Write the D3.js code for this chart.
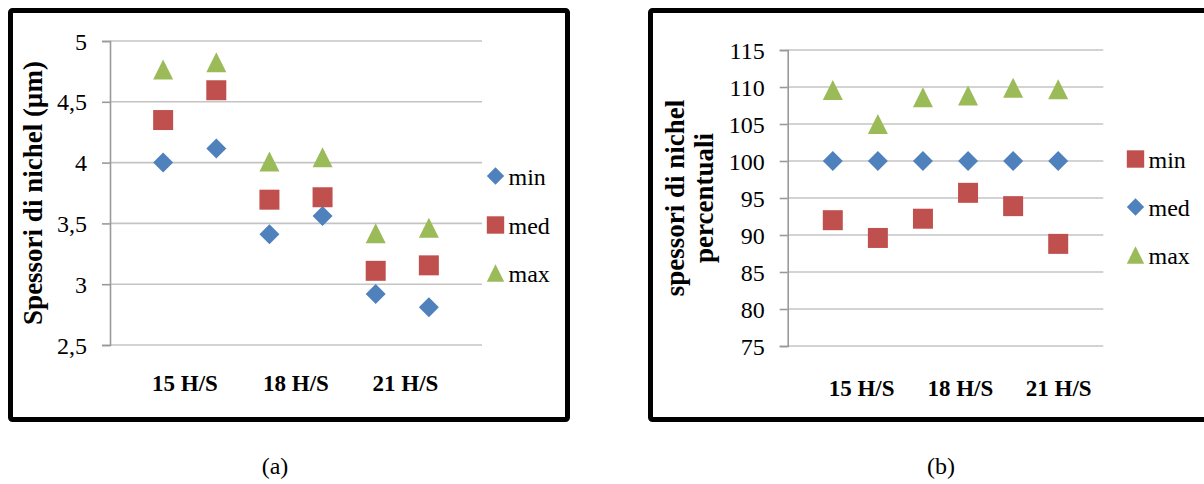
<!DOCTYPE html>
<html><head><meta charset="utf-8">
<script src="https://cdn.jsdelivr.net/npm/d3@7"></script>
<style>body{margin:0;background:#fff} svg{display:block}</style>
</head><body><svg id="c" width="1204" height="484"></svg>
<script>
// ---------- data ----------
const seriesNames = ["min", "med", "max"];
const categories = ["15 H/S", "18 H/S", "21 H/S"];
const xPoints = [1, 2, 3, 4, 5, 6];

// chart (a): spessori di nichel (µm)
const aMin = [4.0, 4.115, 3.41, 3.56, 2.92, 2.81];
const aMed = [4.35, 4.595, 3.695, 3.715, 3.11, 3.155];
const aMax = [4.765, 4.825, 4.01, 4.045, 3.42, 3.465];
const aTicks = [2.5, 3, 3.5, 4, 4.5, 5];
const aCatPos = [1.41, 3.5, 5.56];

// chart (b): spessori di nichel percentuali
const bMin = [92.0, 89.6, 92.2, 95.7, 93.9, 88.8];
const bMed = [100, 100, 100, 100, 100, 100];
const bMax = [109.6, 105.0, 108.6, 108.85, 109.9, 109.7];
const bTicks = [75, 80, 85, 90, 95, 100, 105, 110, 115];
const bCatPos = [1.64, 3.83, 6.01];

// ---------- styles ----------
const FONT = "'Liberation Serif','Times New Roman',serif";
const BLUE = "#4F81BD", RED = "#C0504D", GREEN = "#9BBB59";
const GRID = "#c4c4c4", AXIS = "#9a9a9a";

function markerPath(shape, r) {
  if (shape === "diamond") return `M0,${-r}L${r},0L0,${r}L${-r},0Z`;
  if (shape === "square") return `M${-r},${-r}H${r}V${r}H${-r}Z`;
  // triangle
  return `M0,${-r}L${r},${r}L${-r},${r}Z`;
}
const fmtComma = d => String(d).replace(".", ",");

const svg = d3.select("#c");

function drawChart(cfg) {
  const g = svg.append("g");
  // frame
  g.append("rect").attr("x", cfg.frame[0]).attr("y", cfg.frame[1])
    .attr("width", cfg.frame[2]).attr("height", cfg.frame[3])
    .attr("rx", 2).attr("fill", "none").attr("stroke", "#000").attr("stroke-width", 5);

  const x = d3.scaleLinear().domain([0, 7]).range(cfg.xRange);
  const y = d3.scaleLinear().domain(cfg.yDomain).range(cfg.yRange);

  // gridlines
  g.append("g").selectAll("line").data(cfg.ticks).join("line")
    .attr("x1", cfg.xRange[0]).attr("x2", cfg.xRange[1])
    .attr("y1", d => y(d)).attr("y2", d => y(d))
    .attr("stroke", GRID).attr("stroke-width", 1.6);

  // y axis
  const yAxis = d3.axisLeft(y).tickValues(cfg.ticks).tickSize(8).tickPadding(15)
    .tickFormat(cfg.tickFormat);
  const ya = g.append("g").attr("transform", `translate(${cfg.xRange[0]},0)`).call(yAxis);
  ya.select(".domain").attr("stroke", AXIS).attr("stroke-width", 1.6);
  ya.selectAll(".tick line").attr("stroke", AXIS).attr("stroke-width", 1.6);
  ya.selectAll(".tick text").attr("font-family", FONT).attr("font-size", 24)
    .attr("fill", "#000").attr("dy", "0.34em");

  // category labels
  g.append("g").selectAll("text").data(categories).join("text")
    .attr("x", (d, i) => x(cfg.catPos[i])).attr("y", cfg.catY)
    .attr("text-anchor", "middle").attr("font-family", FONT)
    .attr("font-weight", "bold").attr("font-size", 23).text(d => d);

  // axis title
  const tt = g.append("text").attr("font-family", FONT).attr("font-weight", "bold")
    .attr("font-size", 27).attr("text-anchor", "middle")
    .attr("transform", `translate(${cfg.titleX},${cfg.titleY}) rotate(-90)`);
  cfg.title.forEach((line, i) => {
    tt.append("tspan").attr("x", 0).attr("y", i * cfg.titleLH).text(line);
  });

  // series
  cfg.series.forEach(s => {
    g.append("g").selectAll("path").data(s.values).join("path")
      .attr("transform", (d, i) => `translate(${x(xPoints[i])},${y(d)})`)
      .attr("d", markerPath(s.shape, 10)).attr("fill", s.color);
  });

  // legend
  const lg = g.append("g");
  cfg.series.forEach((s, i) => {
    const cy = cfg.legendY[i];
    lg.append("path").attr("transform", `translate(${cfg.legendX},${cy})`)
      .attr("d", markerPath(s.shape, 8.7)).attr("fill", s.color);
    lg.append("text").attr("x", cfg.legendX + 13).attr("y", cy + 8.5)
      .attr("font-family", FONT).attr("font-size", 24).text(s.name);
  });

  // caption
  svg.append("text").attr("x", cfg.capX).attr("y", 474).attr("text-anchor", "middle")
    .attr("font-family", FONT).attr("font-size", 24).text(cfg.caption);
}

drawChart({
  frame: [10.5, 10.5, 557, 409],
  xRange: [110, 482], yDomain: [2.5, 5], yRange: [345, 41],
  ticks: aTicks, tickFormat: fmtComma, catPos: aCatPos, catY: 391,
  title: ["Spessori di nichel (\u00b5m)"], titleX: 42, titleY: 193, titleLH: 0,
  series: [
    { name: seriesNames[0], values: aMin, shape: "diamond", color: BLUE },
    { name: seriesNames[1], values: aMed, shape: "square", color: RED },
    { name: seriesNames[2], values: aMax, shape: "triangle", color: GREEN }
  ],
  legendX: 495.5, legendY: [176, 225, 273],
  caption: "(a)", capX: 275
});

drawChart({
  frame: [650.5, 10.5, 620, 409],
  xRange: [787.7, 1103.3], yDomain: [75, 115], yRange: [346, 50],
  ticks: bTicks, tickFormat: d => String(d), catPos: bCatPos, catY: 396,
  title: ["spessori di nichel", "percentuali"], titleX: 684, titleY: 198, titleLH: 29,
  series: [
    { name: seriesNames[0], values: bMin, shape: "square", color: RED },
    { name: seriesNames[1], values: bMed, shape: "diamond", color: BLUE },
    { name: seriesNames[2], values: bMax, shape: "triangle", color: GREEN }
  ],
  legendX: 1135.5, legendY: [159, 207, 255],
  caption: "(b)", capX: 941
});
</script>
</body></html>
